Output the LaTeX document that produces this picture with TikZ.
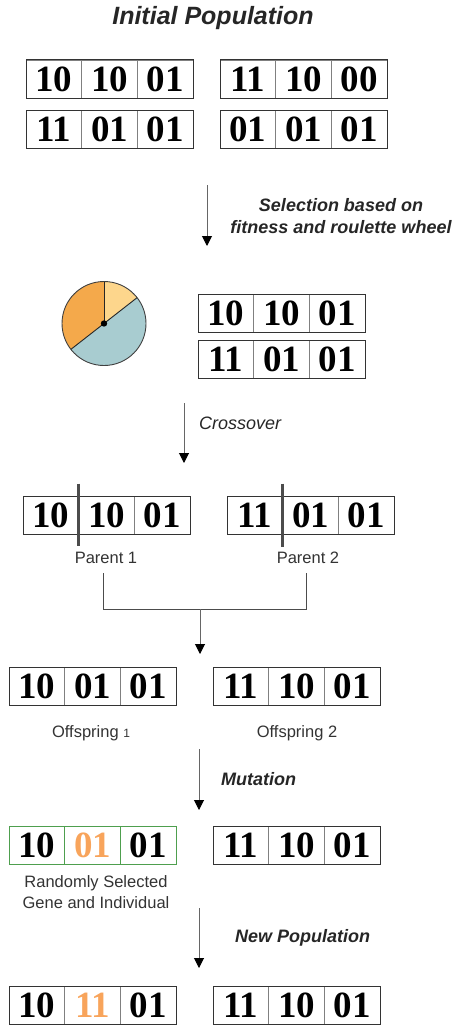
\documentclass[tikz,border=0pt]{standalone}
\usepackage{fontspec}
\setmainfont{Liberation Serif}
\newfontfamily\lsans{Liberation Sans}
\usetikzlibrary{arrows.meta}
\definecolor{pieO}{HTML}{F4A94B}
\definecolor{pieY}{HTML}{FDD68C}
\definecolor{pieB}{HTML}{A8CCD0}
\definecolor{mutO}{HTML}{F8A45B}
\definecolor{grn}{HTML}{4E9F4E}
\tikzset{
  gene/.style={minimum width=55.67pt, minimum height=38pt, inner sep=0pt, outer sep=0pt,
    draw=black!50, line width=0.9pt, font=\fontsize{37}{37}\selectfont\bfseries},
  outerbox/.style={draw=black!80, line width=1pt},
  lbl/.style={font=\lsans\bfseries\itshape\fontsize{18}{22}\selectfont, text=black!85, inner sep=0pt},
  capt/.style={font=\lsans\fontsize{16.5}{21}\selectfont, text=black!80, inner sep=0pt, align=center},
  arr/.style={draw=black!60, line width=1pt, -{Triangle[width=10pt,length=10pt,color=black]}},
  cutline/.style={draw=black!70, line width=2.4pt},
  bracket/.style={draw=black!70, line width=1pt},
}
\newcommand\chrom[7][]{%
  \node[gene,#1,anchor=west] (#2a) at (#3,#4) {#5};
  \node[gene,#1,anchor=west] (#2b) at (#2a.east) {#6};
  \node[gene,#1,anchor=west] (#2c) at (#2b.east) {#7};
  \draw[outerbox,#1] (#2a.north west) rectangle (#2c.south east);
}
\begin{document}
\begin{tikzpicture}[x=1pt,y=-1pt]
\useasboundingbox (0,0) rectangle (457,1025);

% title
\node[lbl, font=\lsans\bfseries\itshape\fontsize{25}{25}\selectfont] (title) at (213,18) {Initial Population};

% initial population
\chrom{ia}{26}{79}{10}{10}{01}
\chrom{ib}{220}{79}{11}{10}{00}
\chrom{ic}{26}{129}{11}{01}{01}
\chrom{id}{220}{129}{01}{01}{01}

% selection arrow
\coordinate (s1) at (207,185);
\coordinate (s2) at (207,246);
\draw[arr] (s1) -- (s2);
\node[lbl, align=center] (selL) at (341,216) {Selection based on\\fitness and roulette wheel};

% roulette wheel
\coordinate (pc) at (104,323.5);
\fill[pieY] (pc) -- ++(38:42pt) arc[start angle=38, end angle=90, radius=42pt] -- cycle;
\fill[pieO] (pc) -- ++(90:42pt) arc[start angle=90, end angle=218, radius=42pt] -- cycle;
\fill[pieB] (pc) -- ++(218:42pt) arc[start angle=218, end angle=398, radius=42pt] -- cycle;
\draw[black!75, line width=0.9pt] (pc) circle[radius=42pt];
\draw[black!85, line width=0.9pt] (pc) -- ++(90:42pt);
\draw[black!85, line width=0.9pt] (pc) -- ++(38:42pt);
\draw[black!85, line width=0.9pt] (pc) -- ++(218:42pt);
\fill[black] (pc) circle[radius=3.2pt];

% selected
\chrom{sa}{198}{313}{10}{10}{01}
\chrom{sb}{198}{359.5}{11}{01}{01}

% crossover arrow
\coordinate (c1) at (184,403);
\coordinate (c2) at (184,463);
\draw[arr] (c1) -- (c2);
\node[lbl, anchor=west, font=\lsans\itshape\fontsize{18}{22}\selectfont] (crossL) at (199,423) {Crossover};

% parents
\chrom{pa}{23}{515.5}{10}{10}{01}
\chrom{pb}{227}{515.5}{11}{01}{01}
\draw[cutline] ([yshift=13pt]paa.north east) -- ([yshift=-11pt]paa.south east);
\draw[cutline] ([yshift=13pt]pba.north east) -- ([yshift=-12pt]pba.south east);
\node[capt] (par1) at (106,558) {Parent 1};
\node[capt] (par2) at (308,558) {Parent 2};

% bracket
\coordinate (b1) at (103,573);
\coordinate (b2) at (103,609);
\coordinate (b3) at (306,609);
\coordinate (b4) at (306,573);
\draw[bracket] (b1) -- (b2) -- (b3) -- (b4);
\coordinate (j1) at (200,609);
\coordinate (j2) at (200,654);
\draw[arr] (j1) -- (j2);

% offspring
\chrom{oa}{9}{686.5}{10}{01}{01}
\chrom{ob}{213}{686.5}{11}{10}{01}
\node[capt] (off1) at (91,733) {Offspring {\fontsize{12}{12}\selectfont 1}};
\node[capt] (off2) at (297,733) {Offspring 2};

% mutation arrow
\coordinate (m1) at (199,749);
\coordinate (m2) at (199,810);
\draw[arr] (m1) -- (m2);
\node[lbl, anchor=west] (mutL) at (221,779) {Mutation};

% mutation
\chrom[draw=grn]{ma}{9}{845.5}{10}{\textcolor{mutO}{01}}{01}
\chrom{mb}{213}{845.5}{11}{10}{01}
\node[capt] (randL) at (96,892.5) {Randomly Selected\\Gene and Individual};

% new population arrow
\coordinate (n1) at (199,908);
\coordinate (n2) at (199,968);
\draw[arr] (n1) -- (n2);
\node[lbl, anchor=west] (newL) at (235,938) {New Population};

% new population
\chrom{na}{9}{1005.5}{10}{\textcolor{mutO}{11}}{01}
\chrom{nb}{213}{1005.5}{11}{10}{01}
\end{tikzpicture}
\end{document}
